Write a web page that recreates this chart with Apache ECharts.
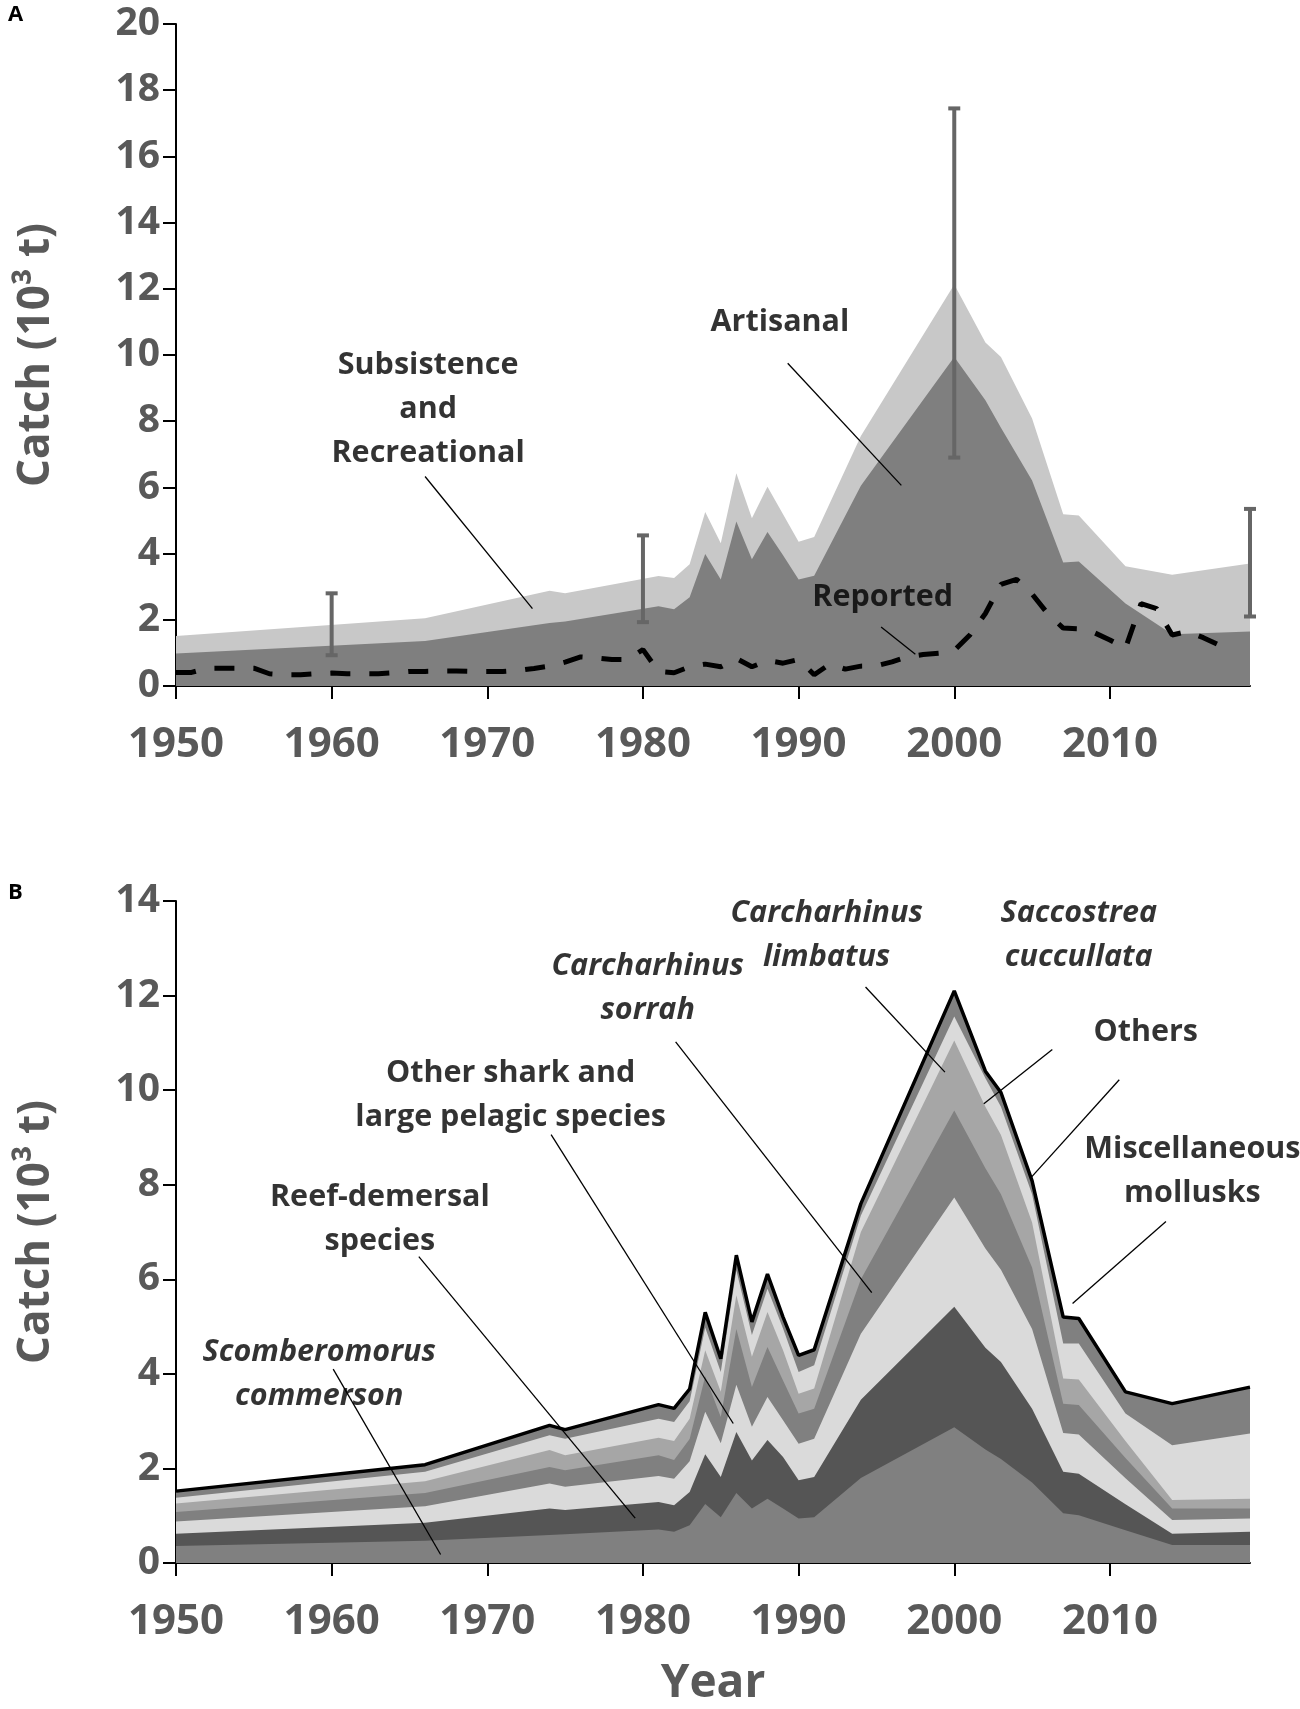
<!DOCTYPE html>
<html>
<head>
<meta charset="utf-8">
<script src="https://cdn.jsdelivr.net/npm/echarts@6.0.0/dist/echarts.min.js"></script>
<style>
  html, body { margin: 0; padding: 0; background: #fff; }
  #chart { width: 1300px; height: 1709px; }
</style>
</head>
<body>
<div id="chart"></div>
<script>
// years where the stacked outlines change slope
const years = [1950, 1966, 1974, 1975, 1981, 1982, 1983, 1984, 1985, 1986, 1987, 1988, 1989,
    1990, 1991, 1994, 2000, 2002, 2003, 2005, 2007, 2008, 2011, 2014, 2019];

// panel A (10^3 t)
const artisanal = [0.98, 1.36, 1.90, 1.95, 2.41, 2.32, 2.68, 3.99, 3.22, 4.97, 3.83, 4.65, 3.95,
    3.22, 3.33, 6.05, 9.94, 8.63, 7.80, 6.21, 3.73, 3.76, 2.49, 1.56, 1.65];
const subsistence = [0.53, 0.69, 0.98, 0.85, 0.91, 0.94, 1.00, 1.27, 1.09, 1.46, 1.24, 1.37, 1.24,
    1.14, 1.17, 1.50, 2.19, 1.75, 2.14, 1.87, 1.46, 1.39, 1.13, 1.80, 2.05];

const reportedStart = 1950;
const reported = [
    0.41, 0.41, 0.54, 0.54, 0.54, 0.54, 0.37, 0.34, 0.34, 0.37,
    0.39, 0.37, 0.37, 0.37, 0.40, 0.44, 0.44, 0.45, 0.45, 0.44,
    0.44, 0.44, 0.47, 0.53, 0.60, 0.72, 0.88, 0.85, 0.80, 0.80,
    1.10, 0.44, 0.40, 0.58, 0.66, 0.58, 0.83, 0.58, 0.77, 0.69,
    0.80, 0.34, 0.66, 0.51, 0.60, 0.61, 0.73, 0.88, 0.95, 0.99,
    1.07, 1.54, 2.19, 3.07, 3.22, 2.78, 2.19, 1.75, 1.73, 1.61,
    1.39, 1.14, 2.49, 2.34, 1.54, 1.65, 1.46, 1.24, 1.21
];

// [year, low, high]
const errorBars = [[1960, 0.93, 2.80], [1980, 1.93, 4.55], [2000, 6.90, 17.45], [2019, 2.10, 5.35]];

// panel B, bottom to top
const scomberomorus = [0.36, 0.47, 0.59, 0.61, 0.71, 0.66, 0.80, 1.25, 0.97, 1.48, 1.15, 1.36, 1.15,
    0.94, 0.97, 1.80, 2.87, 2.40, 2.20, 1.70, 1.05, 1.01, 0.69, 0.38, 0.38];
const reefDemersal = [0.26, 0.38, 0.56, 0.51, 0.58, 0.56, 0.70, 1.05, 0.85, 1.29, 1.02, 1.24, 1.09,
    0.81, 0.85, 1.65, 2.55, 2.15, 2.05, 1.56, 0.88, 0.88, 0.55, 0.24, 0.28];
const otherShark = [0.26, 0.35, 0.53, 0.49, 0.55, 0.56, 0.65, 0.90, 0.71, 1.00, 0.71, 0.91, 0.78,
    0.77, 0.81, 1.40, 2.31, 2.10, 1.95, 1.69, 0.82, 0.83, 0.55, 0.29, 0.28];
const sorrah = [0.20, 0.28, 0.35, 0.35, 0.44, 0.40, 0.47, 0.75, 0.56, 1.18, 0.84, 1.06, 0.84,
    0.64, 0.63, 1.15, 1.84, 1.70, 1.60, 1.30, 0.62, 0.62, 0.43, 0.24, 0.21];
const limbatus = [0.18, 0.25, 0.36, 0.32, 0.37, 0.40, 0.43, 0.55, 0.53, 0.71, 0.64, 0.74, 0.64,
    0.42, 0.43, 1.00, 1.48, 1.30, 1.25, 0.95, 0.53, 0.54, 0.36, 0.18, 0.21];
const saccostrea = [0.12, 0.20, 0.31, 0.35, 0.40, 0.40, 0.37, 0.48, 0.42, 0.53, 0.46, 0.49, 0.46,
    0.46, 0.49, 0.35, 0.51, 0.60, 0.60, 0.60, 0.74, 0.76, 0.58, 1.16, 1.38];
const mollusksOthers = [0.14, 0.15, 0.21, 0.19, 0.30, 0.29, 0.26, 0.32, 0.28, 0.32, 0.28, 0.31, 0.24,
    0.35, 0.33, 0.25, 0.54, 0.15, 0.30, 0.28, 0.56, 0.53, 0.46, 0.88, 0.98];

const layersA = [
    { name: 'Artisanal', values: artisanal, color: '#7f7f7f' },
    { name: 'Subsistence and Recreational', values: subsistence, color: '#c8c8c8' }
];
const layersB = [
    { name: 'Scomberomorus commerson', values: scomberomorus, color: '#808080' },
    { name: 'Reef-demersal species', values: reefDemersal, color: '#555555' },
    { name: 'Other shark and large pelagic species', values: otherShark, color: '#dadada' },
    { name: 'Carcharhinus sorrah', values: sorrah, color: '#808080' },
    { name: 'Carcharhinus limbatus', values: limbatus, color: '#a6a6a6' },
    { name: 'Saccostrea cuccullata', values: saccostrea, color: '#dadada' },
    { name: 'Miscellaneous mollusks and others', values: mollusksOthers, color: '#808080' }
];

const xTicks = [1950, 1960, 1970, 1980, 1990, 2000, 2010];

// annotation text: [x, y, text, italic]
const notesA = [
    [1966.2, 8.37, 'Subsistence\nand\nRecreational', false],
    [1988.8, 11.0, 'Artisanal', false],
    [1995.4, 2.67, 'Reported', false]
];
const leadersA = [
    [1966.0, 6.33, 1972.9, 2.34],
    [1989.3, 9.75, 1996.6, 6.06],
    [1995.3, 1.78, 1997.5, 0.96]
];
const notesB = [
    [1959.2, 3.99, 'Scomberomorus\ncommerson', true],
    [1963.1, 7.27, 'Reef-demersal\nspecies', false],
    [1971.5, 9.9, 'Other shark and\nlarge pelagic species', false],
    [1980.3, 12.15, 'Carcharhinus\nsorrah', true],
    [1991.8, 13.28, 'Carcharhinus\nlimbatus', true],
    [2008.0, 13.28, 'Saccostrea\ncuccullata', true],
    [2012.3, 11.23, 'Others', false],
    [2015.3, 8.28, 'Miscellaneous\nmollusks', false]
];
const leadersB = [
    [1960.1, 4.1, 1967.0, 0.18],
    [1965.6, 6.48, 1979.5, 0.95],
    [1974.1, 9.06, 1985.8, 2.95],
    [1982.1, 11.02, 1994.7, 5.72],
    [1994.3, 12.18, 1999.4, 10.38],
    [2006.3, 10.86, 2001.9, 9.71],
    [2010.6, 10.22, 2004.9, 8.14],
    [2013.6, 7.22, 2007.6, 5.49]
];

const FONT = 'Open Sans';
const GREY = '#595959';

function pairs(xs, ys) {
    return xs.map((x, i) => [x, ys[i]]);
}

// running totals, so each layer can be filled from the axis up to its top
function runningTops(layers) {
    let run = years.map(() => 0);
    return layers.map(l => {
        run = run.map((r, i) => Math.round((r + l.values[i]) * 1000) / 1000);
        return run;
    });
}

function xAxisFor(i, withName) {
    return {
        type: 'value', gridIndex: i, min: 1950, max: 2019,
        name: withName ? 'Year' : '',
        nameLocation: 'middle', nameGap: 98,
        nameTextStyle: { fontFamily: FONT, fontSize: 46, fontWeight: 'bold', color: GREY },
        axisLine: { lineStyle: { color: '#000', width: 2 } },
        axisTick: { show: true, length: 13, lineStyle: { color: '#000', width: 2 }, customValues: xTicks },
        axisLabel: {
            customValues: xTicks, margin: 38, fontFamily: FONT, fontSize: 42, fontWeight: 'bold', color: GREY,
            formatter: v => String(v)
        },
        splitLine: { show: false }
    };
}

function yAxisFor(i, max) {
    return {
        type: 'value', gridIndex: i, min: 0, max: max, interval: 2,
        name: 'Catch (10³ t)', nameLocation: 'middle', nameGap: 118,
        nameTextStyle: { fontFamily: FONT, fontSize: 44, fontWeight: 'bold', color: GREY },
        axisLine: { show: true, lineStyle: { color: '#000', width: 2 } },
        axisTick: { show: true, length: 13, lineStyle: { color: '#000', width: 2 } },
        axisLabel: { margin: 16, fontFamily: FONT, fontSize: 39, fontWeight: 'bold', color: GREY },
        splitLine: { show: false }
    };
}

// layers drawn from the top one down, each filled to zero
function areaSeries(i, layers, outlineTop) {
    const tops = runningTops(layers);
    const out = [];
    for (let k = layers.length - 1; k >= 0; k--) {
        const isTop = k === layers.length - 1;
        out.push({
            name: layers[k].name, type: 'line', xAxisIndex: i, yAxisIndex: i,
            data: pairs(years, tops[k]), showSymbol: false, silent: true,
            lineStyle: isTop && outlineTop ? { color: '#000', width: 3.5 } : { width: 0 },
            areaStyle: { color: layers[k].color, opacity: 1 }
        });
    }
    return out;
}

function textSeries(i, notes) {
    return {
        type: 'scatter', xAxisIndex: i, yAxisIndex: i, silent: true, z: 20,
        symbol: 'circle', symbolSize: 1, itemStyle: { color: 'rgba(0,0,0,0)' },
        label: {
            show: true, position: 'inside', color: '#000', fontFamily: FONT,
            fontSize: 30.5, fontWeight: 'bold', lineHeight: 44, align: 'center', verticalAlign: 'middle'
        },
        data: notes.map(n => ({
            value: [n[0], n[1]],
            label: { formatter: n[2], fontStyle: n[3] ? 'italic' : 'normal' }
        }))
    };
}

function leaderSeries(i, leaders) {
    return {
        type: 'lines', coordinateSystem: 'cartesian2d', xAxisIndex: i, yAxisIndex: i,
        silent: true, z: 15,
        lineStyle: { color: '#000', width: 1.3, opacity: 1 },
        data: leaders.map(l => ({ coords: [[l[0], l[1]], [l[2], l[3]]] }))
    };
}

const chart = echarts.init(document.getElementById('chart'), null, { renderer: 'canvas' });

const series = [].concat(
    areaSeries(0, layersA, false),
    [
        {
            name: 'Reported', type: 'line', xAxisIndex: 0, yAxisIndex: 0, z: 4, silent: true,
            data: reported.map((v, i) => [reportedStart + i, v]), showSymbol: false,
            lineStyle: { color: '#000', width: 5, type: [20, 19] }
        },
        {
            name: 'error', type: 'custom', xAxisIndex: 0, yAxisIndex: 0, z: 6, silent: true, clip: false,
            data: errorBars,
            encode: { x: 0, y: [1, 2] },
            renderItem: function (params, api) {
                const lo = api.coord([api.value(0), api.value(1)]);
                const hi = api.coord([api.value(0), api.value(2)]);
                const st = { stroke: '#666666', lineWidth: 4 };
                return {
                    type: 'group', children: [
                        { type: 'line', shape: { x1: lo[0], y1: lo[1], x2: hi[0], y2: hi[1] }, style: st },
                        { type: 'line', shape: { x1: lo[0] - 6, y1: lo[1], x2: lo[0] + 6, y2: lo[1] }, style: st },
                        { type: 'line', shape: { x1: hi[0] - 6, y1: hi[1], x2: hi[0] + 6, y2: hi[1] }, style: st }
                    ]
                };
            }
        },
        textSeries(0, notesA),
        leaderSeries(0, leadersA)
    ],
    areaSeries(1, layersB, true),
    [textSeries(1, notesB), leaderSeries(1, leadersB)]
);

chart.setOption({
    animation: false,
    backgroundColor: '#fff',
    grid: [
        { left: 176, width: 1074, top: 24, height: 662 },
        { left: 176, width: 1074, top: 901, height: 662 }
    ],
    xAxis: [xAxisFor(0, false), xAxisFor(1, true)],
    yAxis: [yAxisFor(0, 20), yAxisFor(1, 14)],
    graphic: [
        { type: 'text', left: 8, top: 4, style: { text: 'A', fontFamily: FONT, fontSize: 22, fontWeight: 'bold', fill: '#000' } },
        { type: 'text', left: 8, top: 882, style: { text: 'B', fontFamily: FONT, fontSize: 22, fontWeight: 'bold', fill: '#000' } }
    ],
    series: series
});
</script>
</body>
</html>
